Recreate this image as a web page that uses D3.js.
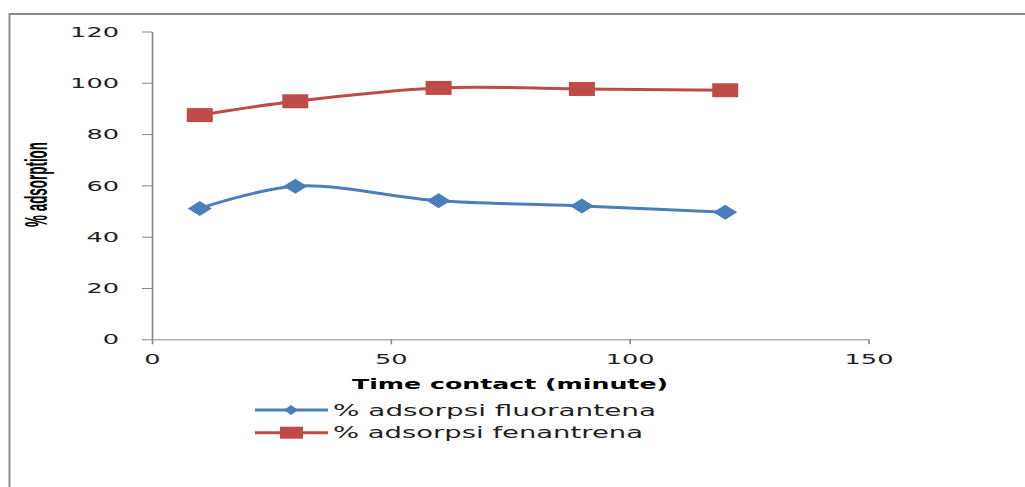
<!DOCTYPE html>
<html>
<head>
<meta charset="utf-8">
<script src="https://cdn.jsdelivr.net/npm/d3@7"></script>
<style>
  html, body { margin: 0; padding: 0; background: #fff; }
  svg { display: block; }
</style>
</head>
<body>
<svg id="chart" width="1025" height="487"></svg>
<script>
// ---- data ----
const timeMinutes = [10, 30, 60, 90, 120];
const fluorantena = [51.0, 59.7, 54.0, 52.0, 49.5];
const fenantrena = [87.4, 92.8, 98.0, 97.6, 97.1];
const seriesNames = ["% adsorpsi fluorantena", "% adsorpsi fenantrena"];
const yTicks = [0, 20, 40, 60, 80, 100, 120];
const xTicks = [0, 50, 100, 150];
const xTitle = "Time contact (minute)";
const yTitle = "% adsorption";

// ---- layout / style ----
const blue = "#4a7ebb", red = "#be4b48", axisCol = "#868686", txt = "#1f1f1f";
const charW = 16.3; // horizontally stretched digits
const svg = d3.select("#chart");

// outer frame (top + left edges)
svg.append("path").attr("d", "M9.5,487V14H1025")
  .attr("fill", "none").attr("stroke", "#8c8c8c").attr("stroke-width", 2);

const x = d3.scaleLinear().domain([0, 150]).range([152, 868.5]);
const y = d3.scaleLinear().domain([0, 120]).range([339.3, 31.5]);

// y axis
const gy = svg.append("g").attr("transform", "translate(152,0)")
  .call(d3.axisLeft(y).tickValues(yTicks).tickSize(10).tickSizeOuter(0).tickPadding(23));
gy.select(".domain").attr("stroke", axisCol).attr("stroke-width", 1.6);
gy.selectAll(".tick line").attr("stroke", axisCol).attr("stroke-width", 1);
gy.selectAll(".tick text")
  .attr("font-family", "DejaVu Sans").attr("font-size", 14.5).attr("fill", txt)
  .attr("textLength", d => String(d).length * charW).attr("lengthAdjust", "spacingAndGlyphs");

// x axis
const gx = svg.append("g").attr("transform", `translate(0,${y(0)})`)
  .call(d3.axisBottom(x).tickValues(xTicks).tickSize(5).tickSizeOuter(0).tickPadding(9));
gx.select(".domain").attr("stroke", axisCol).attr("stroke-width", 1);
gx.selectAll(".tick line").attr("stroke", axisCol).attr("stroke-width", 1.6);
gx.selectAll(".tick text")
  .attr("font-family", "DejaVu Sans").attr("font-size", 14.5).attr("fill", txt)
  .attr("textLength", d => String(d).length * charW).attr("lengthAdjust", "spacingAndGlyphs");

// axis titles
svg.append("text").attr("x", 510).attr("y", 389).attr("text-anchor", "middle")
  .attr("font-family", "DejaVu Sans").attr("font-weight", "bold").attr("font-size", 14)
  .attr("fill", "#000").attr("textLength", 316).attr("lengthAdjust", "spacingAndGlyphs")
  .text(xTitle);

svg.append("text")
  .attr("transform", "translate(46.5,184.5) rotate(-90) scale(1,2.3)")
  .attr("text-anchor", "middle")
  .attr("font-family", "Liberation Sans").attr("font-weight", "bold").attr("font-size", 13.5)
  .attr("fill", "#000").attr("textLength", 85).attr("lengthAdjust", "spacingAndGlyphs")
  .text(yTitle);

// lines
const line = d3.line().x(d => x(d[0])).y(d => y(d[1])).curve(d3.curveCatmullRom.alpha(0.5));
const s1 = timeMinutes.map((t, i) => [t, fluorantena[i]]);
const s2 = timeMinutes.map((t, i) => [t, fenantrena[i]]);

svg.append("path").datum(s1).attr("d", line)
  .attr("fill", "none").attr("stroke", blue).attr("stroke-width", 3);
svg.append("path").datum(s2).attr("d", line)
  .attr("fill", "none").attr("stroke", red).attr("stroke-width", 3);

function diamond(cx, cy, w, h) {
  return `M${cx - w / 2},${cy}L${cx},${cy - h / 2}L${cx + w / 2},${cy}L${cx},${cy + h / 2}Z`;
}
svg.append("g").selectAll("path").data(s1).join("path")
  .attr("d", d => diamond(x(d[0]), y(d[1]), 24, 15)).attr("fill", blue);
svg.append("g").selectAll("rect").data(s2).join("rect")
  .attr("x", d => x(d[0]) - 13).attr("y", d => y(d[1]) - 7)
  .attr("width", 26).attr("height", 14).attr("fill", red);

// legend
const legY = [410, 432.7];
const legW = [323, 310];
const lg = svg.append("g");
[blue, red].forEach((c, i) => {
  lg.append("line").attr("x1", 255).attr("x2", 328).attr("y1", legY[i]).attr("y2", legY[i])
    .attr("stroke", c).attr("stroke-width", 3);
  if (i === 0) {
    lg.append("path").attr("d", diamond(291, legY[i], 14, 10)).attr("fill", c);
  } else {
    lg.append("rect").attr("x", 280).attr("y", legY[i] - 6).attr("width", 23).attr("height", 12).attr("fill", c);
  }
  lg.append("text").attr("x", 333).attr("y", legY[i] + 5.5)
    .attr("font-family", "DejaVu Sans").attr("font-size", 15.5).attr("fill", txt)
    .attr("textLength", legW[i]).attr("lengthAdjust", "spacingAndGlyphs")
    .text(seriesNames[i]);
});
</script>
</body>
</html>
